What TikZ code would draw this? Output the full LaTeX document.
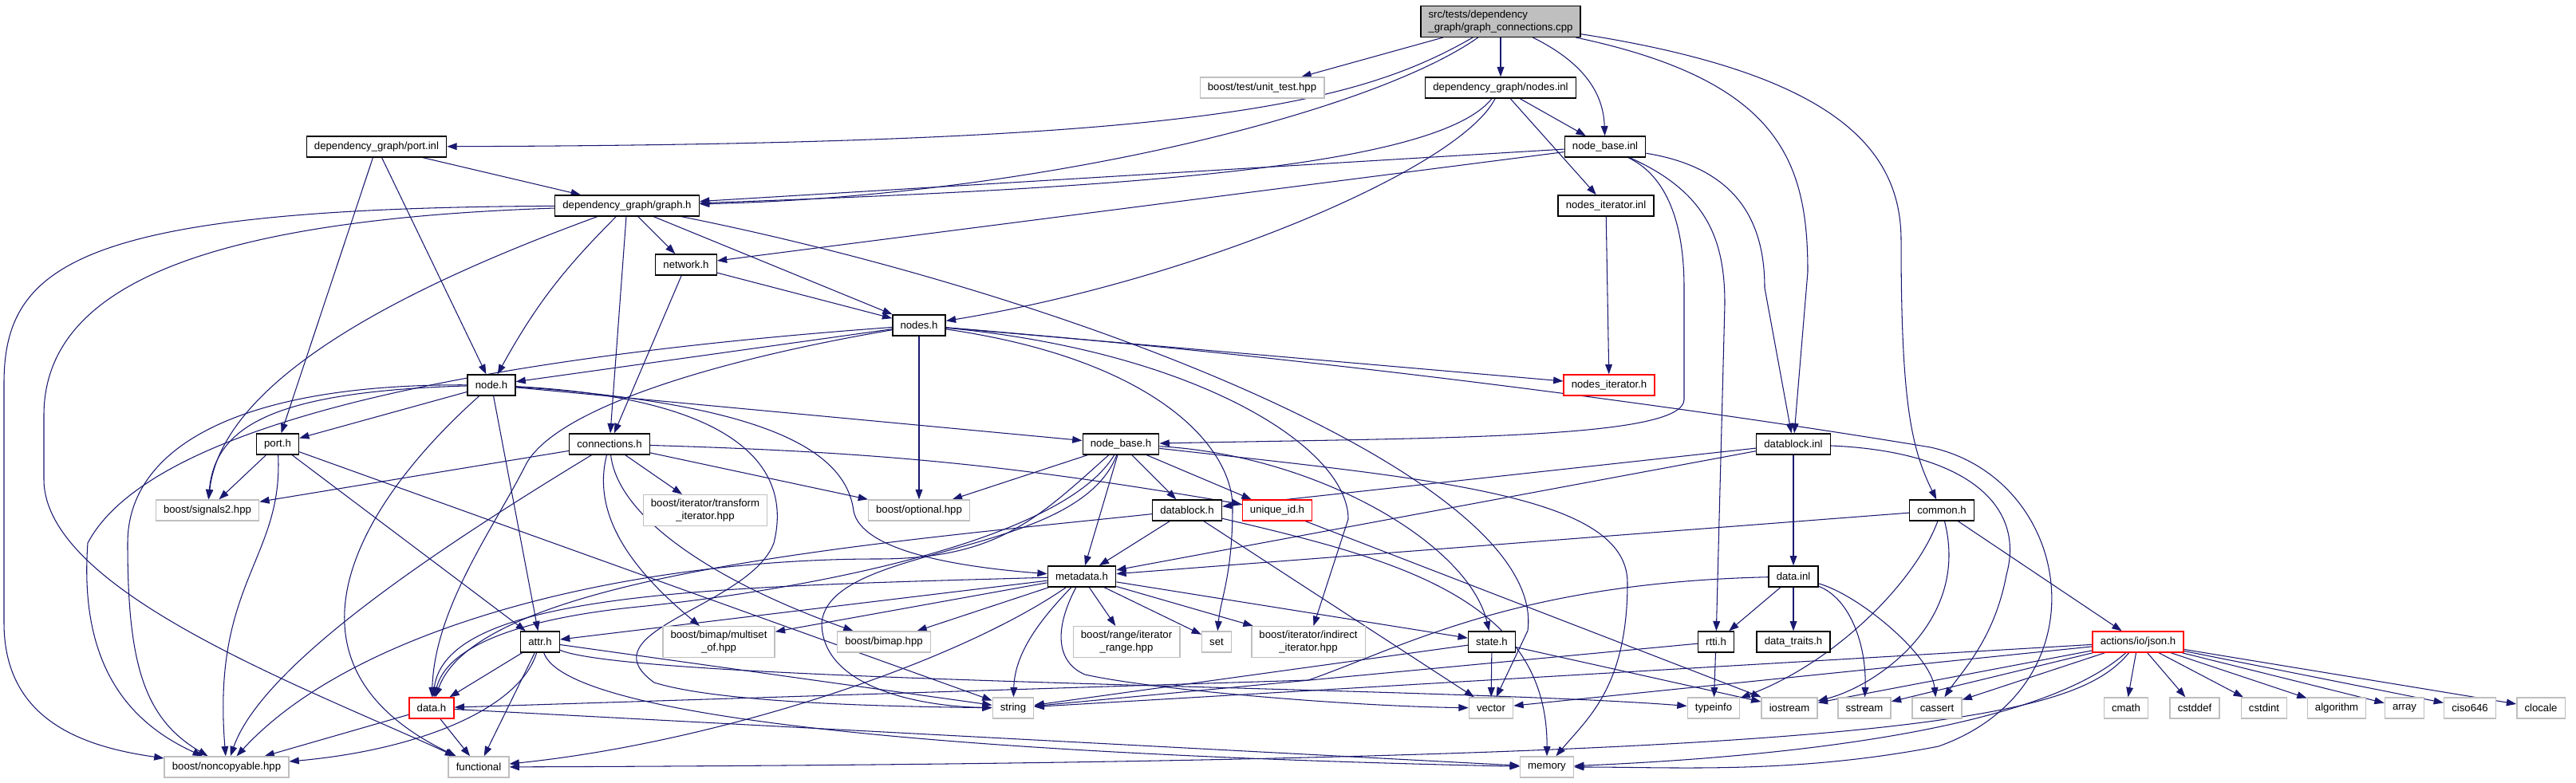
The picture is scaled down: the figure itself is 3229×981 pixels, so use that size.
\documentclass[tikz,border=0pt]{standalone}
\usepackage{fontspec}
\setmainfont{Liberation Sans}
\usepackage{xcolor}
\definecolor{dxblue}{RGB}{25,25,112}
\definecolor{dxgray}{RGB}{191,191,191}
\usetikzlibrary{arrows.meta, backgrounds}

\begin{document}
\begin{tikzpicture}[x=0.02cm, y=0.02cm,
  hdr/.style={rectangle, draw=black, line width=0.8pt, fill=white, minimum height=0.52cm,
              inner xsep=5.5pt, inner ysep=3pt, align=center, font=\fontsize{7.5}{9}\selectfont},
  syshdr/.style={hdr, draw=dxgray},
  redhdr/.style={hdr, draw=red},
  srcfile/.style={hdr, fill=dxgray, align=left},
  arr/.style={-{Triangle[length=7pt,width=5pt]}, line width=0.6pt, dxblue}
]
\useasboundingbox (0,0) rectangle (3229,981);

% project headers, top to bottom
\node[srcfile] (main) at (1881,954) {src/tests/dependency\\\_graph/graph\_connections.cpp};
\node[syshdr] (unittest) at (1582,871) {boost/test/unit\_test.hpp};
\node[hdr] (nodesinl) at (1881,871) {dependency\_graph/nodes.inl};
\node[hdr] (portinl) at (472,797) {dependency\_graph/port.inl};
\node[hdr] (nodebaseinl) at (2012,797) {node\_base.inl};
\node[hdr] (graphh) at (786,723) {dependency\_graph/graph.h};
\node[hdr] (nodesiterinl) at (2013,723) {nodes\_iterator.inl};
\node[hdr] (networkh) at (860,649) {network.h};
\node[hdr] (nodesh) at (1152,573) {nodes.h};
\node[hdr] (nodeh) at (616,498) {node.h};
\node[redhdr] (nodesiterh) at (2017,498) {nodes\_iterator.h};
\node[hdr] (porth) at (348,424) {port.h};
\node[hdr] (connh) at (764,424) {connections.h};
\node[hdr] (nodebaseh) at (1405,424) {node\_base.h};
\node[hdr] (datablockinl) at (2248,424) {datablock.inl};
\node[syshdr] (signals) at (260,341) {boost/signals2.hpp};
\node[syshdr] (transform) at (884,341) {boost/iterator/transform\\\_iterator.hpp};
\node[syshdr] (optional) at (1152,341) {boost/optional.hpp};
\node[hdr] (datablockh) at (1488,341) {datablock.h};
\node[redhdr] (uniqueidh) at (1601,341) {unique\_id.h};
\node[hdr] (commonh) at (2434,341) {common.h};
\node[hdr] (metadatah) at (1356,258) {metadata.h};
\node[hdr] (datainl) at (2248,258) {data.inl};
\node[hdr] (attrh) at (677,176) {attr.h};
\node[syshdr] (multiset) at (901,176) {boost/bimap/multiset\\\_of.hpp};
\node[syshdr] (bimap) at (1108,176) {boost/bimap.hpp};
\node[syshdr] (range) at (1412,176) {boost/range/iterator\\\_range.hpp};
\node[syshdr] (set) at (1525,176) {set};
\node[syshdr] (indirect) at (1640,176) {boost/iterator/indirect\\\_iterator.hpp};
\node[hdr] (stateh) at (1870,176) {state.h};
\node[hdr] (rttih) at (2151,176) {rtti.h};
\node[hdr] (traitsh) at (2248,176) {data\_traits.h};
\node[redhdr] (jsonh) at (2680,176) {actions/io/json.h};
\node[redhdr] (datah) at (541,93) {data.h};
% system headers
\node[syshdr] (string) at (1270,93) {string};
\node[syshdr] (vector) at (1869,93) {vector};
\node[syshdr] (typeinfo) at (2148,93) {typeinfo};
\node[syshdr] (iostream) at (2243,93) {iostream};
\node[syshdr] (sstream) at (2337,93) {sstream};
\node[syshdr] (cassert) at (2428,93) {cassert};
\node[syshdr] (cmath) at (2665,93) {cmath};
\node[syshdr] (cstddef) at (2751,93) {cstddef};
\node[syshdr] (cstdint) at (2838,93) {cstdint};
\node[syshdr] (algorithm) at (2929,93) {algorithm};
\node[syshdr] (array) at (3014,93) {array};
\node[syshdr] (ciso) at (3096,93) {ciso646};
\node[syshdr] (clocale) at (3185,93) {clocale};
\node[syshdr] (noncopyable) at (284,19) {boost/noncopyable.hpp};
\node[syshdr] (functional) at (600,19) {functional};
\node[syshdr] (memory) at (1939,19) {memory};

\begin{pgfonlayer}{background}
\fill[white] (0,0) rectangle (3229,981);
% graph_connections.cpp
\draw[arr] (main)--(unittest); \draw[arr] (main)--(nodesinl);
\draw[arr] (main) .. controls (1700,850) and (1500,800) .. (portinl);
\draw[arr] (main) .. controls (1720,840) and (1300,735) .. (graphh);
\draw[arr] (main) .. controls (1990,900) and (2010,860) .. (nodebaseinl);
\draw[arr] (main) .. controls (2230,880) and (2266,780) .. (2266,640) -- (datablockinl);
\draw[arr] (main) .. controls (2290,890) and (2383,800) .. (2383,680) .. controls (2383,480) and (2395,420) .. (commonh);
% nodes.inl, node_base.inl, port.inl
\draw[arr] (nodesinl) .. controls (1800,770) and (1400,745) .. (graphh);
\draw[arr] (nodesinl) .. controls (1830,770) and (1500,630) .. (nodesh);
\draw[arr] (nodesinl)--(nodebaseinl); \draw[arr] (nodesinl)--(nodesiterinl);
\draw[arr] (nodebaseinl)--(graphh); \draw[arr] (nodebaseinl)--(networkh);
\draw[arr] (nodebaseinl) .. controls (2090,760) and (2111,700) .. (2111,620) -- (2111,480)
  .. controls (2111,430) and (1800,432) .. (nodebaseh);
\draw[arr] (nodebaseinl) .. controls (2140,740) and (2162,680) .. (2162,600) -- (rttih);
\draw[arr] (nodebaseinl) .. controls (2180,770) and (2212,700) .. (2212,620) -- (datablockinl);
\draw[arr] (portinl)--(graphh); \draw[arr] (portinl)--(porth); \draw[arr] (portinl)--(nodeh);
\draw[arr] (nodesiterinl)--(nodesiterh);
% dependency_graph/graph.h
\draw[arr] (graphh) .. controls (100,720) and (5,650) .. (5,500) -- (5,200) .. controls (5,80) and (100,45) .. (noncopyable);
\draw[arr] (graphh) .. controls (250,705) and (55,620) .. (55,460) -- (55,380) .. controls (55,240) and (380,120) .. (functional);
\draw[arr] (graphh) .. controls (560,640) and (280,520) .. (signals);
\draw[arr] (graphh) to[bend right=8] (nodeh);
\draw[arr] (graphh)--(connh); \draw[arr] (graphh)--(networkh); \draw[arr] (graphh)--(nodesh);
\draw[arr] (graphh) .. controls (1350,610) and (1940,380) .. (1915,190) -- (vector);
% network.h, nodes.h
\draw[arr] (networkh)--(nodesh); \draw[arr] (networkh)--(connh);
\draw[arr] (nodesh)--(nodeh); \draw[arr] (nodesh)--(optional); \draw[arr] (nodesh)--(nodesiterh);
\draw[arr] (nodesh) .. controls (700,540) and (200,470) .. (110,300) .. controls (100,160) and (150,80) .. (noncopyable);
\draw[arr] (nodesh) .. controls (900,530) and (700,470) .. (660,400) .. controls (620,320) and (545,220) .. (datah);
\draw[arr] (nodesh) .. controls (1450,530) and (1545,420) .. (1545,345) .. controls (1545,260) and (1530,230) .. (set);
\draw[arr] (nodesh) .. controls (1500,540) and (1690,420) .. (1690,330) -- (indirect);
\draw[arr] (nodesh) .. controls (1800,520) and (2300,440) .. (2420,420) .. controls (2600,380) and (2640,120) .. (2430,45)
  .. controls (2250,10) and (2100,19) .. (memory);
% node.h, port.h
\draw[arr] (nodeh)--(porth); \draw[arr] (nodeh)--(attrh); \draw[arr] (nodeh)--(nodebaseh);
\draw[arr] (nodeh) .. controls (300,500) and (160,420) .. (160,300) .. controls (160,150) and (180,80) .. (noncopyable);
\draw[arr] (nodeh) .. controls (350,490) and (270,450) .. (signals);
\draw[arr] (nodeh) .. controls (450,350) and (330,150) .. (functional);
\draw[arr] (nodeh) .. controls (950,475) and (1060,420) .. (1070,340) .. controls (1080,290) and (1200,270) .. (metadatah);
\draw[arr] (nodeh) .. controls (950,480) and (990,380) .. (970,300) .. controls (940,220) and (730,190) .. (820,125)
  .. controls (900,100) and (1100,95) .. (string);
\draw[arr] (porth)--(signals); \draw[arr] (porth)--(attrh); \draw[arr] (porth)--(string);
\draw[arr] (porth) .. controls (355,280) and (265,250) .. (noncopyable);
% connections.h
\draw[arr] (connh)--(signals); \draw[arr] (connh)--(transform); \draw[arr] (connh)--(optional);
\draw[arr] (connh) to[bend left=4] (uniqueidh);
\draw[arr] (connh) .. controls (560,300) and (330,150) .. (noncopyable);
\draw[arr] (connh) .. controls (740,330) and (800,260) .. (multiset);
\draw[arr] (connh) .. controls (775,330) and (900,250) .. (bimap);
% node_base.h
\draw[arr] (nodebaseh)--(optional); \draw[arr] (nodebaseh)--(metadatah); \draw[arr] (nodebaseh)--(datablockh);
\draw[arr] (nodebaseh)--(uniqueidh);
\draw[arr] (nodebaseh) .. controls (1300,330) and (1250,280) .. (1100,280) .. controls (800,280) and (450,200) .. (noncopyable);
\draw[arr] (nodebaseh) .. controls (1330,300) and (1000,240) .. (800,220) .. controls (650,205) and (560,170) .. (datah);
\draw[arr] (nodebaseh) .. controls (1350,280) and (1040,300) .. (1030,200) .. controls (1030,120) and (1150,95) .. (string);
\draw[arr] (nodebaseh) .. controls (1650,410) and (1840,300) .. (stateh);
\draw[arr] (nodebaseh) .. controls (1800,380) and (2040,360) .. (2040,250) .. controls (2040,120) and (1990,80) .. (memory);
% datablock.h, datablock.inl, data.inl, common.h
\draw[arr] (datablockh)--(metadatah); \draw[arr] (datablockh)--(vector);
\draw[arr] (datablockh) .. controls (1100,300) and (600,260) .. (datah);
\draw[arr] (datablockh) .. controls (1750,280) and (1940,230) .. (memory);
\draw[arr] (datablockinl)--(datablockh); \draw[arr] (datablockinl)--(metadatah); \draw[arr] (datablockinl)--(datainl);
\draw[arr] (datablockinl) .. controls (2460,415) and (2540,350) .. (2515,260) .. controls (2500,180) and (2460,140) .. (cassert);
\draw[arr] (datainl)--(rttih); \draw[arr] (datainl)--(traitsh);
\draw[arr] (datainl) .. controls (2320,230) and (2340,170) .. (sstream);
\draw[arr] (datainl) .. controls (2330,235) and (2420,160) .. (cassert);
\draw[arr] (datainl) .. controls (1900,250) and (1760,170) .. (1640,128) -- (datah);
\draw[arr] (commonh)--(metadatah); \draw[arr] (commonh)--(jsonh);
\draw[arr] (commonh) .. controls (2400,250) and (2300,150) .. (typeinfo);
\draw[arr] (commonh) .. controls (2470,200) and (2350,120) .. (iostream);
\draw[arr] (uniqueidh)--(iostream);
% metadata.h
\draw[arr] (metadatah)--(attrh); \draw[arr] (metadatah)--(multiset); \draw[arr] (metadatah)--(bimap);
\draw[arr] (metadatah)--(range); \draw[arr] (metadatah)--(set); \draw[arr] (metadatah)--(indirect);
\draw[arr] (metadatah)--(stateh);
\draw[arr] (metadatah) .. controls (900,245) and (560,240) .. (datah);
\draw[arr] (metadatah) .. controls (1300,200) and (1272,160) .. (string);
\draw[arr] (metadatah) .. controls (1320,190) and (1325,150) .. (1360,135) .. controls (1450,115) and (1700,95) .. (vector);
\draw[arr] (metadatah) .. controls (1200,150) and (900,50) .. (functional);
% attr.h, data.h, state.h, rtti.h
\draw[arr] (attrh)--(datah); \draw[arr] (attrh)--(functional); \draw[arr] (attrh)--(string);
\draw[arr] (attrh) .. controls (800,125) and (1800,120) .. (typeinfo);
\draw[arr] (attrh) .. controls (650,90) and (520,40) .. (noncopyable);
\draw[arr] (attrh) .. controls (710,80) and (1200,35) .. (memory);
\draw[arr] (datah)--(noncopyable); \draw[arr] (datah)--(functional); \draw[arr] (datah)--(memory);
\draw[arr] (stateh)--(string); \draw[arr] (stateh)--(vector); \draw[arr] (stateh)--(iostream);
\draw[arr] (rttih)--(string); \draw[arr] (rttih)--(typeinfo);
% actions/io/json.h
\draw[arr] (jsonh)--(string); \draw[arr] (jsonh)--(vector); \draw[arr] (jsonh)--(iostream);
\draw[arr] (jsonh)--(sstream); \draw[arr] (jsonh)--(cassert);
\draw[arr] (jsonh) .. controls (2550,60) and (2200,30) .. (memory);
\draw[arr] (jsonh) .. controls (2600,80) and (2400,25) .. (functional);
\draw[arr] (jsonh)--(cmath); \draw[arr] (jsonh)--(cstddef); \draw[arr] (jsonh)--(cstdint);
\draw[arr] (jsonh)--(algorithm); \draw[arr] (jsonh)--(array); \draw[arr] (jsonh)--(ciso);
\draw[arr] (jsonh)--(clocale);
\end{pgfonlayer}
\end{tikzpicture}
\end{document}
